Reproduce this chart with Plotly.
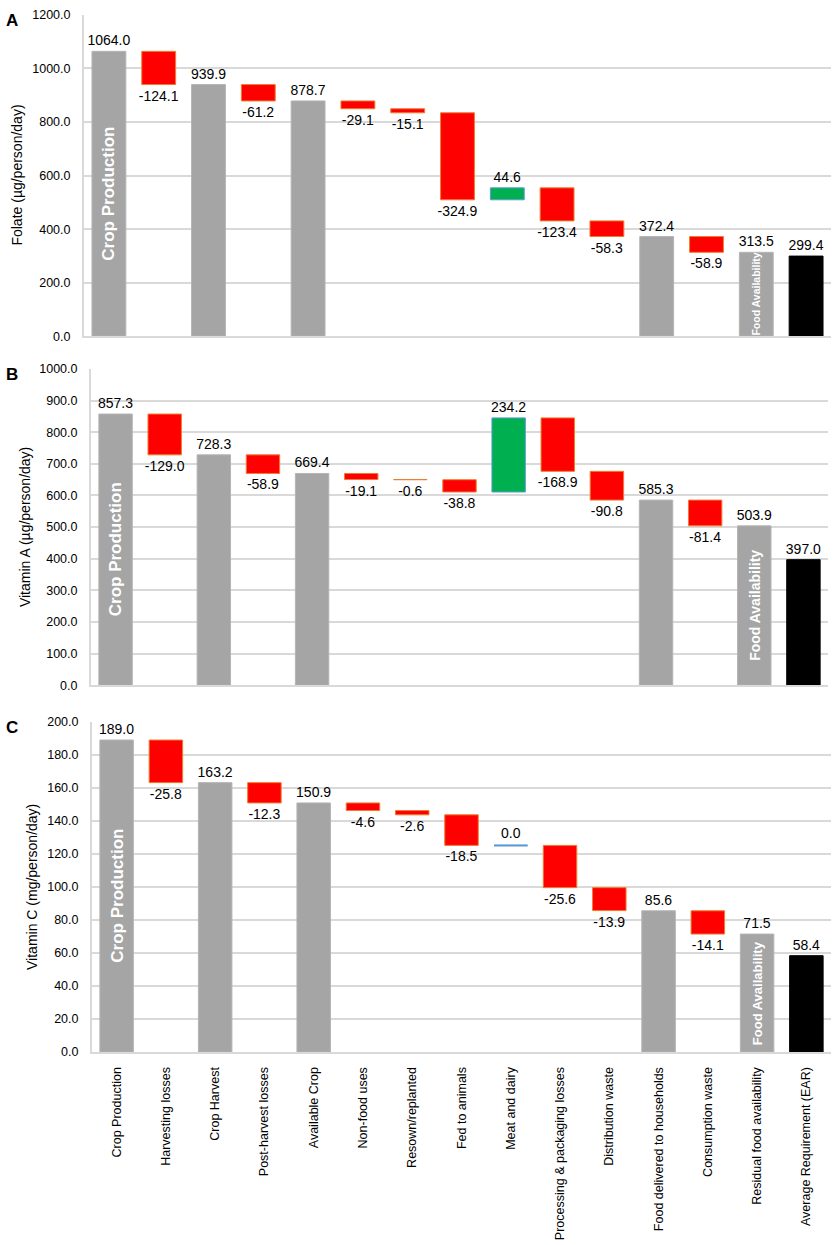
import plotly.graph_objects as go
from plotly.subplots import make_subplots

# categories along the food chain
steps = ["Crop Production", "Harvesting losses", "Crop Harvest", "Post-harvest losses",
         "Available Crop", "Non-food uses", "Resown/replanted", "Fed to animals",
         "Meat and dairy", "Processing & packaging losses", "Distribution waste",
         "Food delivered to households", "Consumption waste", "Residual food availability",
         "Average Requirement (EAR)"]
kinds = ["total", "loss", "total", "loss", "total", "loss", "loss", "loss",
         "gain", "loss", "loss", "total", "loss", "total", "ear"]

folate = [1064.0, -124.1, 939.9, -61.2, 878.7, -29.1, -15.1, -324.9, 44.6, -123.4, -58.3, 372.4, -58.9, 313.5, 299.4]
vit_a = [857.3, -129.0, 728.3, -58.9, 669.4, -19.1, -0.6, -38.8, 234.2, -168.9, -90.8, 585.3, -81.4, 503.9, 397.0]
vit_c = [189.0, -25.8, 163.2, -12.3, 150.9, -4.6, -2.6, -18.5, 0.0, -25.6, -13.9, 85.6, -14.1, 71.5, 58.4]

panels = [
    ("A", "Folate (µg/person/day)", folate, 1200, 200),
    ("B", "Vitamin A (µg/person/day)", vit_a, 1000, 100),
    ("C", "Vitamin C (mg/person/day)", vit_c, 200, 20),
]

fill = {"total": "#a5a5a5", "loss": "#ff0000", "gain": "#00b050", "ear": "#000000"}
edge = {"total": "#b4b4b4", "loss": "#ed7d31", "gain": "#5b9bd5", "ear": "#000000"}

W, H = 835, 1245
# pixel boxes of the three plot areas (left, right, top, bottom)
boxes = [(84, 831, 8, 333), (91, 828, 366, 686), (92, 831, 723, 1057)]
FONT = "Liberation Sans, Arial, sans-serif"

fig = make_subplots(rows=3, cols=1)


def waterfall(vals):
    bases, heights = [], []
    level = 0
    for v, k in zip(vals, kinds):
        if k in ("total", "ear"):
            bases.append(0)
            heights.append(v)
            if k == "total":
                level = v
        else:
            bases.append(level)
            heights.append(v)
            level += v
    return bases, heights


for i, (letter, title, vals, ymax, dt) in enumerate(panels):
    row = i + 1
    bases, heights = waterfall(vals)
    texts = ["" if v == 0 else f"{v:.1f}" for v in vals]
    fig.add_trace(go.Bar(
        x=steps, y=heights, base=bases,
        marker=dict(color=[fill[k] for k in kinds],
                    line=dict(color=[edge[k] for k in kinds], width=1)),
        text=texts, textposition="outside", constraintext="none", cliponaxis=False,
        textfont=dict(family=FONT, size=14, color="black"),
        showlegend=False, hoverinfo="skip",
    ), row=row, col=1)

    xr = "x" if row == 1 else f"x{row}"
    yr = "y" if row == 1 else f"y{row}"

    # zero change: draw a flat blue line with its label
    for j, (v, k) in enumerate(zip(vals, kinds)):
        if k == "gain" and v == 0:
            fig.add_shape(type="line", xref=xr, yref=yr, x0=j - 0.34, x1=j + 0.34,
                          y0=bases[j], y1=bases[j], line=dict(color="#5b9bd5", width=2))
            fig.add_annotation(xref=xr, yref=yr, x=steps[j], y=bases[j], text=f"{v:.1f}",
                               showarrow=False, yanchor="bottom", yshift=2,
                               font=dict(family=FONT, size=14, color="black"))

    l, r, t, b = boxes[i]
    xname = "xaxis" if row == 1 else f"xaxis{row}"
    yname = "yaxis" if row == 1 else f"yaxis{row}"
    fig.update_layout({
        xname: dict(domain=[l / W, r / W], showgrid=False, showline=True, linecolor="#d9d9d9",
                    linewidth=2, showticklabels=(row == 3), tickangle=-90,
                    tickfont=dict(family=FONT, size=12.5, color="black"),
                    ticks="", ticklabelstandoff=8),
        yname: dict(domain=[1 - b / H, 1 - t / H], range=[0, ymax], dtick=dt, tickformat=".1f",
                    showgrid=True, gridcolor="#d9d9d9", gridwidth=2, showline=True,
                    linecolor="#d9d9d9", linewidth=2, zeroline=False, ticks="",
                    ticklabelstandoff=9, tickfont=dict(family=FONT, size=12.5, color="black")),
    })

    # white labels inside the production and residual bars
    fig.add_annotation(xref=xr, yref=yr, x=steps[0], y=vals[0] / 2, text="<b>Crop Production</b>",
                       textangle=-90, showarrow=False,
                       font=dict(family=FONT, size=17, color="white"))
    fs = [10.5, 14, 13][i]
    fig.add_annotation(xref=xr, yref=yr, x=steps[13], y=vals[13] / 2, text="<b>Food Availability</b>",
                       textangle=-90, showarrow=False,
                       font=dict(family=FONT, size=fs, color="white"))
    # axis title and panel letter
    tx = [17, 25, 32][i]
    fig.add_annotation(xref="paper", yref="paper", x=tx / W, y=1 - (t + b) / 2 / H, text=title,
                       textangle=-90, showarrow=False, xanchor="center", yanchor="middle",
                       font=dict(family=FONT, size=14, color="black"))
    fig.add_annotation(xref="paper", yref="paper", x=12 / W, y=1 - (t + 6) / H, text=f"<b>{letter}</b>",
                       showarrow=False, xanchor="center", yanchor="middle",
                       font=dict(family=FONT, size=17, color="black"))

fig.update_layout(
    width=W, height=H, margin=dict(l=0, r=0, t=0, b=0),
    plot_bgcolor="white", paper_bgcolor="white", bargap=0.32,
)

fig.write_html("out.html", config={"displayModeBar": False},
               post_script="document.body.style.margin='0';")
